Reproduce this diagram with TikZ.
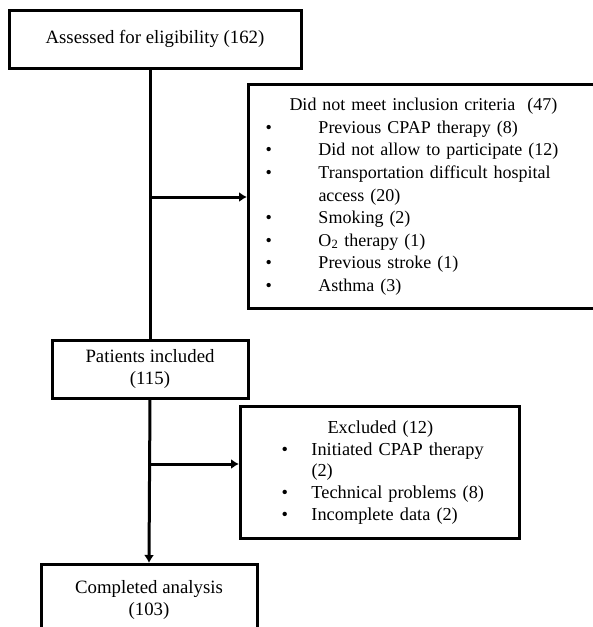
\documentclass[tikz,border=0pt]{standalone}
\usepackage{fontspec}
\setmainfont{Liberation Serif}
\usetikzlibrary{arrows.meta}

\begin{document}
\begin{tikzpicture}[x=1pt,y=-1pt,>={Latex[length=8pt,width=10pt]},
    box/.style={draw,line width=3pt,inner sep=0pt,align=center,
        font=\fontsize{18.8}{22}\selectfont},
    listbox/.style={box,anchor=north west,align=left},
    link/.style={line width=3pt}]

        % Frame
        \path[use as bounding box,clip] (0,0) rectangle (593,627);

        % Boxes
        \node[box,minimum width=292,minimum height=58] (assessed) at (155,39)
            {Assessed for eligibility (162)};

        \node[listbox,text width=360,minimum height=224,font=\fontsize{18}{22.6}\selectfont] (criteria) at (247,83)
            {\hspace*{17pt}\begin{tabular}{@{}p{53pt}@{}l@{}}
                \multicolumn{2}{@{\hspace{24pt}}l@{}}{Did not meet inclusion criteria\ \ (47)}\\
                \textbullet & Previous CPAP therapy (8)\\
                \textbullet & Did not allow to participate (12)\\
                \textbullet & Transportation difficult hospital\\
                            & access (20)\\
                \textbullet & Smoking (2)\\
                \textbullet & O\textsubscript{2} therapy (1)\\
                \textbullet & Previous stroke (1)\\
                \textbullet & Asthma (3)
            \end{tabular}};

        \node[box,minimum width=196,minimum height=58] (patients) at (150,369)
            {Patients included\\(115)};

        \node[listbox,text width=279,minimum height=132,font=\fontsize{18.3}{21.8}\selectfont] (excluded) at (239,405)
            {\hspace*{41pt}\begin{tabular}{@{}p{30pt}@{}l@{}}
                \multicolumn{2}{@{\hspace{46pt}}l@{}}{Excluded (12)}\\
                \textbullet & Initiated CPAP therapy\\
                            & (2)\\
                \textbullet & Technical problems (8)\\
                \textbullet & Incomplete data (2)
            \end{tabular}};

        \node[box,anchor=north,minimum width=216,minimum height=70] (completed) at (149,563)
            {Completed analysis\\(103)};

        % Main flow
        \draw[link] (assessed.south -| patients.north) -- (patients.north);
        \draw[link,->] (patients.south) -- (completed.north);

        % Side arrows
        \coordinate (split1) at (150,197);
        \coordinate (split2) at (150,464);
        \draw[link,->] (split1) -- (split1 -| criteria.west);
        \draw[link,->] (split2) -- (split2 -| excluded.west);

    \end{tikzpicture}
\end{document}
